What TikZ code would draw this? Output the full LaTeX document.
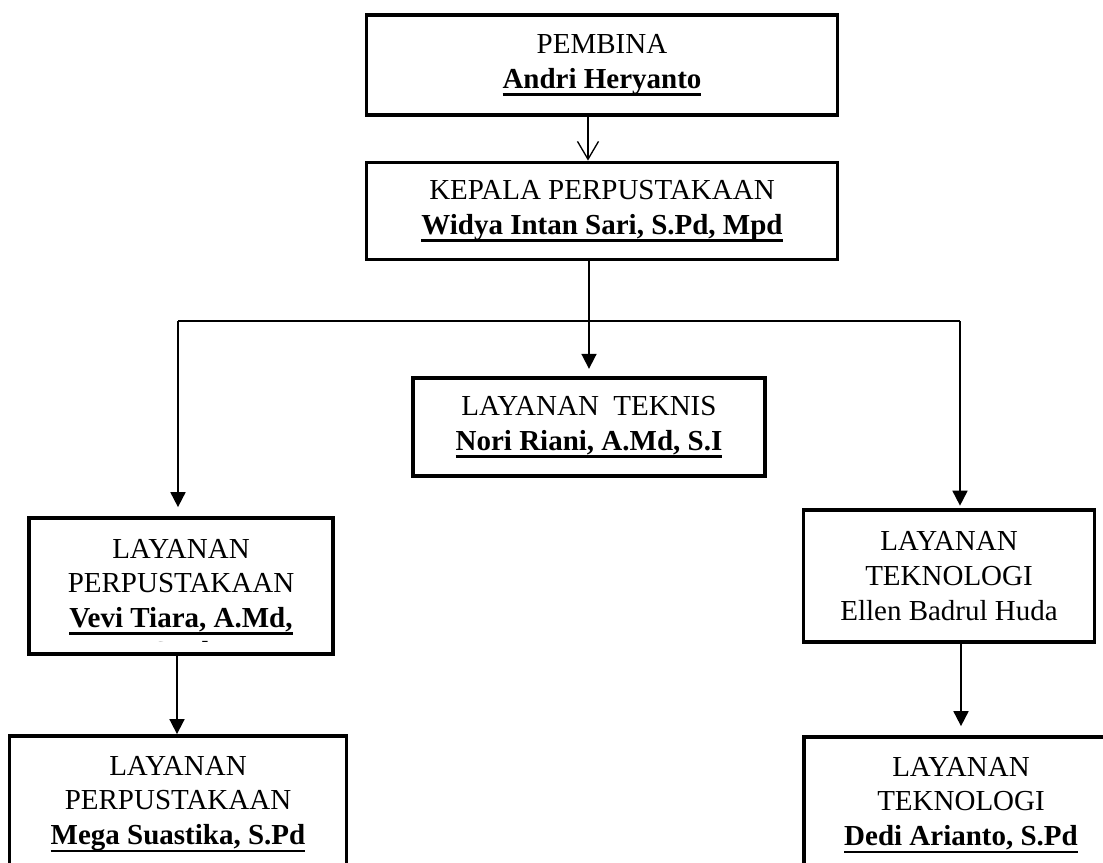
\documentclass[tikz,border=0pt]{standalone}
\usepackage{fontspec}
\setmainfont{Liberation Serif}
\usetikzlibrary{arrows.meta}

\newcommand{\px}{0.4138pt}
\newcommand{\nama}[1]{\textbf{\setbox0\hbox{#1}\rlap{\rule[-3.1pt]{\wd0}{0.9pt}}\box0}}

\begin{document}
\begin{tikzpicture}[x=\px, y=-\px, line width=0.75pt,
                    >={Triangle[length=6.2pt,width=6.2pt]},
                    kotak/.style={draw, line width=1.6pt, align=center, inner sep=0pt,
                                  font=\fontsize{12}{14.3}\selectfont},
                    teks/.style={align=center, inner sep=0pt,
                                 font=\fontsize{12}{14.3}\selectfont}]
  \useasboundingbox (0,0) rectangle (1103,862);

  \node[kotak, minimum width=471*\px, minimum height=100*\px] (pembina) at (602,65)
       {PEMBINA\\\nama{Andri Heryanto}};
  \node[kotak, minimum width=471*\px, minimum height=97*\px]  (kepala)  at (602,211)
       {KEPALA PERPUSTAKAAN\\\nama{Widya Intan Sari, S.Pd, Mpd}};
  \node[kotak, minimum width=352*\px, minimum height=98*\px]  (teknis)  at (589,427)
       {LAYANAN\ \ TEKNIS\\\nama{Nori Riani, A.Md, S.I}};
  \node[kotak, minimum width=304*\px, minimum height=136*\px] (perpus1) at (181,586) {};
  \node[kotak, minimum width=291*\px, minimum height=132*\px] (tekno1)  at (949,576)
       {LAYANAN\\TEKNOLOGI\\Ellen Badrul Huda};
  \node[kotak, minimum width=337*\px, minimum height=136*\px] (perpus2) at (178,804)
       {LAYANAN\\PERPUSTAKAAN\\\nama{Mega Suastika, S.Pd}};
  \node[kotak, minimum width=314*\px, minimum height=136*\px] (tekno2)  at (961,805)
       {LAYANAN\\TEKNOLOGI\\\nama{Dedi Arianto, S.Pd}};

  % baris terakhir terpotong oleh kotak
  \begin{scope}
    \clip ([yshift=14*\px]perpus1.south west) rectangle (perpus1.north east);
    \node[teks] (perpus1teks) at (181,604)
         {LAYANAN\\PERPUSTAKAAN\\\nama{Vevi Tiara, A.Md,}\\\nama{S.Pd}};
  \end{scope}

  \coordinate (kiri)  at (178,321);
  \coordinate (kanan) at (960,321);
  \coordinate (atas)  at ([xshift=-14*\px]pembina.south);

  \draw (kiri) -- (kanan);
  \path[->] (atas) edge [-{Straight Barb[length=7.4pt,width=8.7pt]}, line width=0.55pt]
                                                  (atas |- kepala.north)
            (kepala.south -| teknis.north) edge [shorten >=3pt]   (teknis.north)
            (kiri)                         edge [shorten >=3.7pt] (kiri |- perpus1.north)
            (kanan)                        edge [shorten >=1pt]   (kanan |- tekno1.north)
            ([xshift=-4*\px]perpus1.south) edge                   ([xshift=-4*\px]perpus1.south |- perpus2.north)
            (tekno2.north |- tekno1.south) edge [shorten >=3.7pt] (tekno2.north);
\end{tikzpicture}
\end{document}
